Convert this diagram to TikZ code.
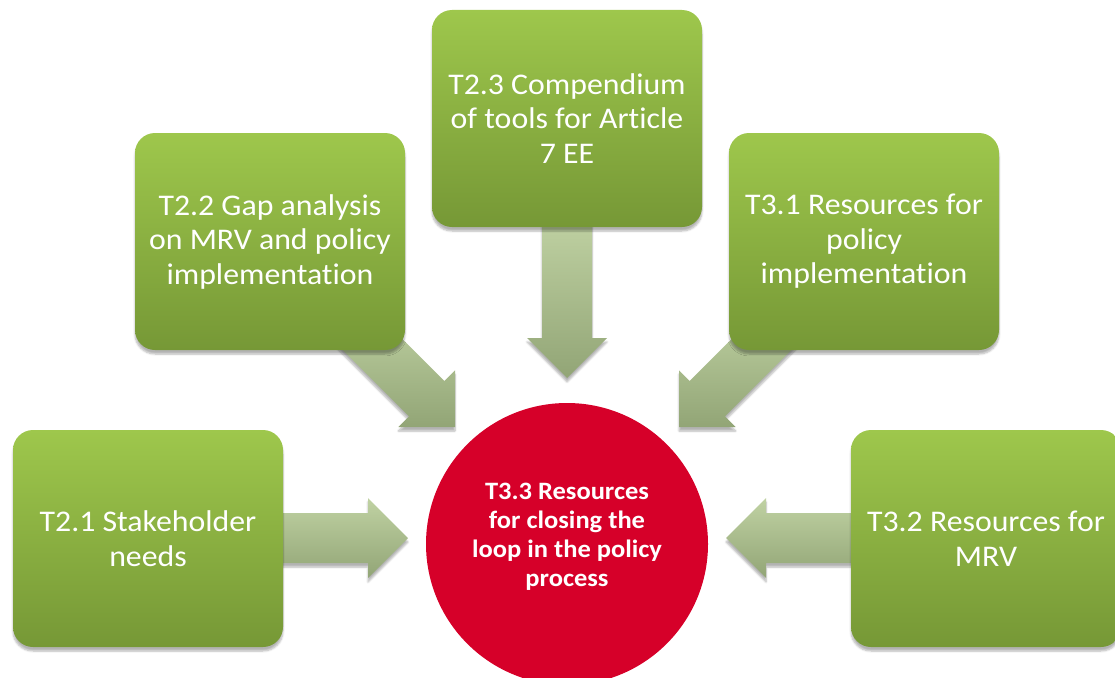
\documentclass[tikz,border=0pt]{standalone}
\usepackage{fontspec}
\setmainfont{Carlito}[Ligatures=NoCommon, FakeStretch=1.06]
\usetikzlibrary{shadows.blur}
\definecolor{gtop}{RGB}{158,199,76}
\definecolor{gbot}{RGB}{118,152,54}
\definecolor{atop}{RGB}{192,210,163}
\definecolor{abot}{RGB}{146,165,118}
\definecolor{circred}{RGB}{214,0,41}
\begin{document}
\begin{tikzpicture}[x=1pt,y=-1pt,
  task/.style={rounded corners=20pt, minimum width=270pt, minimum height=217pt,
    top color=gtop, bottom color=gbot, text=white, align=center, inner sep=0pt,
    font=\fontsize{30}{34.5}\selectfont,
    blur shadow={shadow xshift=0pt, shadow yshift=-4pt, shadow opacity=30, shadow blur steps=6}},
  barrow/.style={top color=atop, bottom color=abot,
    blur shadow={shadow xshift=0pt, shadow yshift=-4pt, shadow opacity=30, shadow blur steps=6}},
  hub/.style={circle, fill=circred, minimum size=282pt, inner sep=0pt},
  hubtext/.style={text=white, align=center, font=\bfseries\fontsize{25}{29}\selectfont}
]
\useasboundingbox (0,0) rectangle (1115,677);
\clip (0,0) rectangle (1115,677);

% block arrows (drawn first, boxes cover their tails)
\path[barrow] (275,513) -- (368,513) -- (368,498) -- (408,538) -- (368,578) -- (368,563) -- (275,563) -- cycle;
\path[barrow] (859,513) -- (766,513) -- (766,498) -- (726,538) -- (766,578) -- (766,563) -- (859,563) -- cycle;
\path[barrow] (542,215) -- (592,215) -- (592,338) -- (607,338) -- (567,378) -- (527,338) -- (542,338) -- cycle;
\path[barrow] (367.7,304.3) -- (444.4,381.0) -- (455,370.4) -- (455,427) -- (398.4,427) -- (409.0,416.4) -- (332.3,339.7) -- cycle;
\path[barrow] (766.3,304.3) -- (689.6,381.0) -- (679,370.4) -- (679,427) -- (735.6,427) -- (725,416.4) -- (801.7,339.7) -- cycle;

% task boxes
\node[task] (t21) at (148,538.5) {T2.1 Stakeholder\\needs};
\node[task] (t32) at (986,538.5) {T3.2 Resources for\\MRV};
\node[task] (t22) at (270,241.5) {T2.2 Gap analysis\\on MRV and policy\\implementation};
\node[task] (t31) at (864,241.5) {T3.1 Resources for\\policy\\implementation};
\node[task] (t23) at (567,118.5) {T2.3 Compendium\\of tools for Article\\7 EE};

% central circle
\node[hub] (t33) at (567,544) {};
\node[hubtext] (t33label) at (567,537) {T3.3 Resources\\for closing the\\loop in the policy\\process};
\end{tikzpicture}
\end{document}
